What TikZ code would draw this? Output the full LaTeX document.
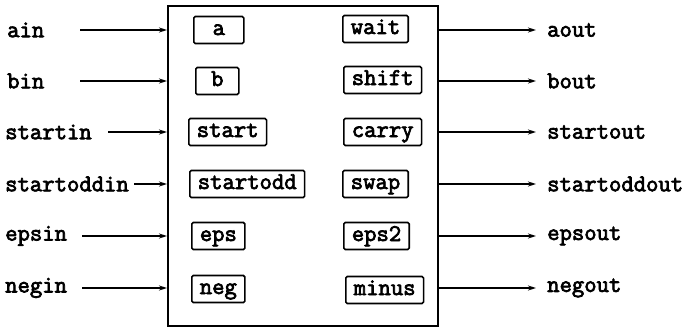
\documentclass[tikz,border=0pt]{standalone}
\usepackage{fontspec}
\newfontfamily\twfont[FakeBold=3]{Latin Modern Mono}
\usetikzlibrary{arrows.meta}
\begin{document}
\begin{tikzpicture}[x=1pt,y=-1pt,
  every node/.style={font=\fontsize{24}{28}\selectfont\twfont},
  lab/.style={inner sep=0pt, anchor=west},
  inbox/.style={draw, line width=1.6pt, rounded corners=1.5pt, minimum height=27pt, text height=15pt, text depth=5pt, inner xsep=8pt, inner ysep=0pt, anchor=west},
  arr/.style={line width=1.4pt, -{Stealth[length=8pt,width=5pt]}},
  outer/.style={draw, line width=1.6pt, minimum width=270pt, minimum height=320pt, anchor=north west, inner sep=0pt}]
\useasboundingbox (0,0) rectangle (688,329);
\node[outer] (box) at (167,5) {};
% left labels
\node[lab] (ain) at (7,30) {ain};
\node[lab] (bin) at (7,81) {bin};
\node[lab] (startin) at (5,132) {startin};
\node[lab] (startoddin) at (5,184) {startoddin};
\node[lab] (epsin) at (5,236) {epsin};
\node[lab] (negin) at (5,288) {negin};
\coordinate (ainS) at (80,30);
\coordinate (binS) at (80,81);
\coordinate (startinS) at (108,132);
\coordinate (startoddinS) at (134,184);
\coordinate (epsinS) at (82,236);
\coordinate (neginS) at (82,288);
\foreach \n in {ain,bin,startin,startoddin,epsin,negin}
  \draw[arr] (\n S) -- (\n S -| box.west);
% inner boxes left
\node[inbox, minimum width=50pt] (ia) at (193,30) {a};
\node[inbox, minimum width=43pt] (ib) at (195,81) {b};
\node[inbox] (istart) at (188,132) {start};
\node[inbox] (istartodd) at (189,184) {startodd};
\node[inbox] (ieps) at (191,236) {eps};
\node[inbox] (ineg) at (191,289) {neg};
% inner boxes right
\node[inbox] (iwait) at (342,29) {wait};
\node[inbox] (ishift) at (343,80) {shift};
\node[inbox] (icarry) at (343,132) {carry};
\node[inbox] (iswap) at (342,184) {swap};
\node[inbox] (ieps2) at (343,236) {eps2};
\node[inbox] (iminus) at (345,290) {minus};
% right labels
\node[lab] (aout) at (547,30) {aout};
\node[lab] (bout) at (547,81) {bout};
\node[lab] (startout) at (547,132) {startout};
\node[lab] (startoddout) at (547,184) {startoddout};
\node[lab] (epsout) at (547,236) {epsout};
\node[lab] (negout) at (547,288) {negout};
\foreach \n in {aout,bout,startout,startoddout,epsout,negout}
  \draw[arr, shorten >=11pt] (box.east |- \n.west) -- (\n.west);
\end{tikzpicture}
\end{document}
